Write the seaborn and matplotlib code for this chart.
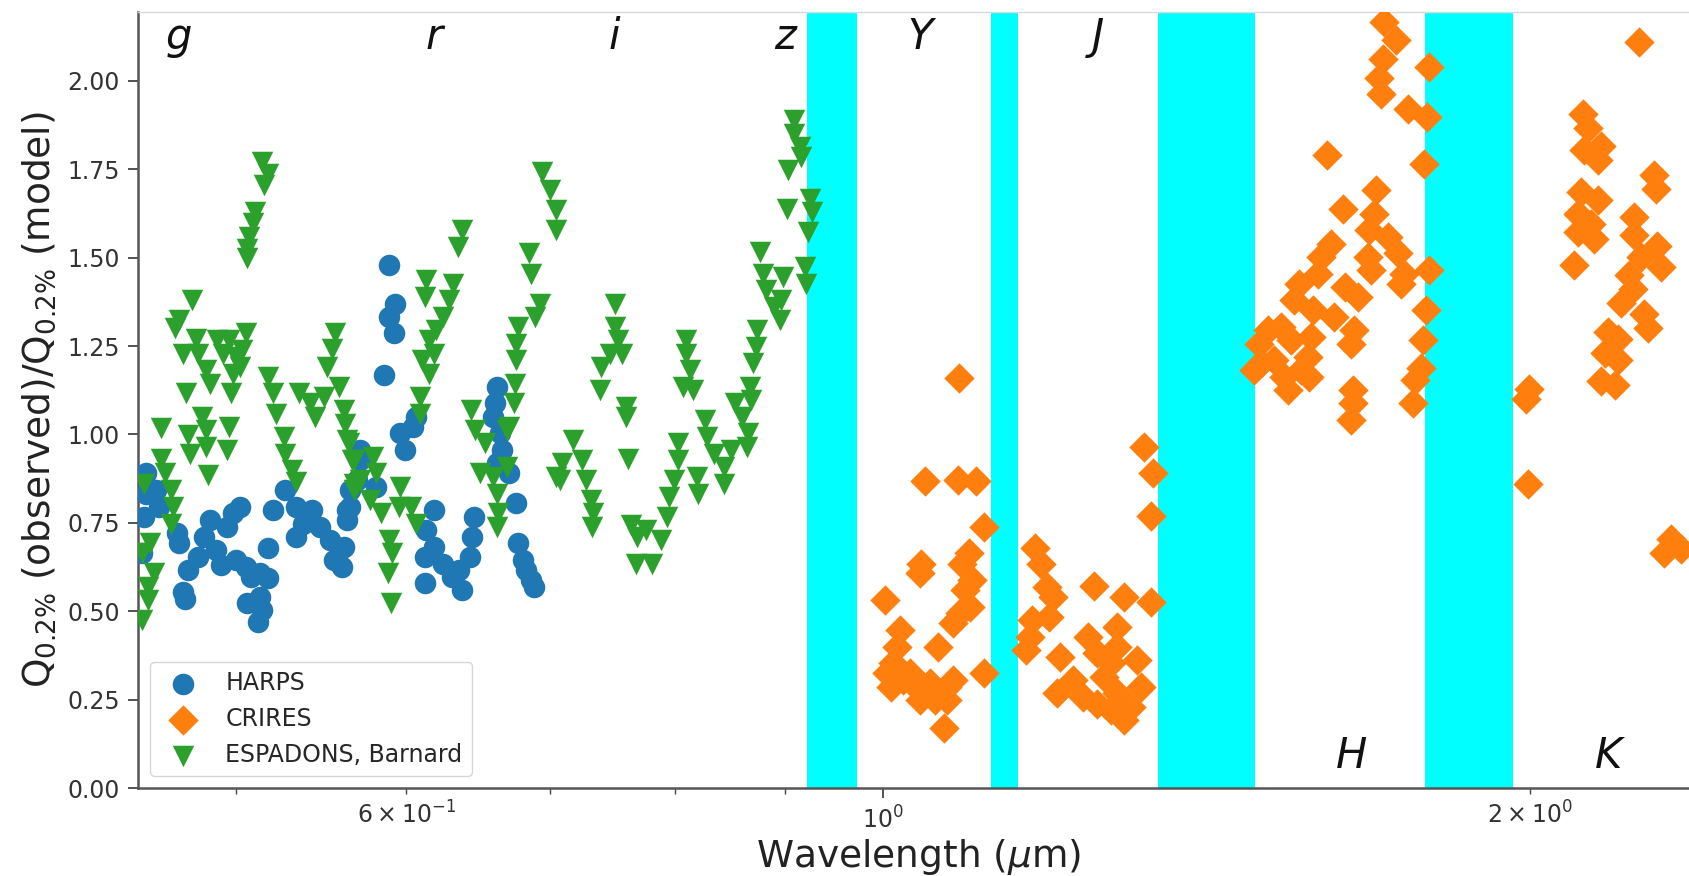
import matplotlib
matplotlib.use("Agg")
import numpy as np
import matplotlib.pyplot as plt
import seaborn as sns

sns.set_style("ticks")
plt.rcParams["font.family"] = ["DejaVu Sans"]
plt.rcParams["mathtext.fontset"] = "dejavusans"

# ---------------------------------------------------------------- data
# HARPS (optical)
harps_wl = [0.454, 0.454, 0.453, 0.452, 0.459, 0.460, 0.469, 0.470, 0.473, 0.472,
            0.475, 0.480, 0.483, 0.486, 0.489, 0.492, 0.495, 0.498, 0.502, 0.500,
            0.505, 0.508, 0.513, 0.517, 0.517, 0.506, 0.513, 0.512, 0.514, 0.520,
            0.527, 0.533, 0.537, 0.533, 0.542, 0.547, 0.553, 0.555, 0.559, 0.565,
            0.563, 0.571, 0.589, 0.593, 0.589, 0.592, 0.586, 0.596, 0.599, 0.604,
            0.606, 0.571, 0.569, 0.565, 0.563, 0.561, 0.560, 0.581, 0.618, 0.613,
            0.618, 0.612, 0.612, 0.624, 0.630, 0.637, 0.635, 0.642, 0.644, 0.645,
            0.661, 0.660, 0.658, 0.663, 0.665, 0.661, 0.670, 0.675, 0.676, 0.680,
            0.686, 0.688, 0.682]
harps_q = [0.890, 0.833, 0.767, 0.664, 0.843, 0.795, 0.720, 0.692, 0.536, 0.555,
           0.616, 0.654, 0.711, 0.758, 0.673, 0.631, 0.739, 0.777, 0.795, 0.645,
           0.626, 0.597, 0.607, 0.593, 0.678, 0.522, 0.541, 0.470, 0.503, 0.786,
           0.843, 0.795, 0.748, 0.711, 0.786, 0.739, 0.701, 0.645, 0.673, 0.795,
           0.758, 0.956, 1.479, 1.370, 1.333, 1.286, 1.168, 1.003, 0.956, 1.021,
           1.050, 0.927, 0.871, 0.843, 0.786, 0.682, 0.626, 0.852, 0.786, 0.729,
           0.682, 0.654, 0.579, 0.635, 0.597, 0.560, 0.616, 0.654, 0.711, 0.767,
           1.135, 1.088, 1.050, 1.003, 0.956, 0.918, 0.890, 0.805, 0.692, 0.645,
           0.588, 0.569, 0.616]

# CRIRES (near infrared)
crires_wl = [1.046, 1.084, 1.105, 1.114, 1.042, 1.040, 1.096, 1.088, 1.100, 1.092,
             1.098, 1.086, 1.078, 1.002, 1.018, 1.015, 1.011, 1.008, 1.022, 1.036,
             1.040, 1.052, 1.057, 1.071, 1.078, 1.071, 1.067, 1.061, 1.114, 1.029,
             1.004, 1.177, 1.184, 1.192, 1.200, 1.194, 1.173, 1.171, 1.165, 1.253,
             1.295, 1.332, 1.322, 1.336, 1.332, 1.246, 1.258, 1.285, 1.285, 1.276,
             1.209, 1.205, 1.226, 1.239, 1.258, 1.276, 1.295, 1.304, 1.313, 1.318,
             1.285, 1.267, 1.711, 1.733, 1.708, 1.702, 1.705, 1.755, 1.792, 1.795,
             1.610, 1.785, 1.696, 1.637, 1.693, 1.684, 1.717, 1.736, 1.748, 1.742,
             1.681, 1.687, 1.795, 1.616, 1.599, 1.593, 1.561, 1.554, 1.640, 1.663,
             1.585, 1.621, 1.657, 1.651, 1.510, 1.532, 1.548, 1.582, 1.576, 1.499,
             1.520, 1.537, 1.565, 1.543, 1.579, 1.789, 1.783, 1.780, 1.768, 1.765,
             1.654, 1.654, 1.651, 1.488, 1.496, 1.997, 2.248, 2.117, 2.128, 2.159,
             2.120, 2.151, 2.285, 2.289, 2.113, 2.151, 2.105, 2.136, 2.105, 2.143,
             2.097, 2.236, 2.236, 2.293, 2.253, 2.302, 2.225, 2.233, 2.205, 2.261,
             2.269, 2.174, 2.198, 2.167, 2.198, 2.159, 2.191, 1.999, 1.992, 2.326,
             2.310, 2.351, 1.085]
crires_q = [0.869, 0.871, 0.869, 0.737, 0.635, 0.607, 0.664, 0.635, 0.588, 0.560,
            0.513, 0.494, 0.466, 0.532, 0.447, 0.399, 0.353, 0.286, 0.305, 0.286,
            0.249, 0.296, 0.249, 0.286, 0.305, 0.249, 0.169, 0.399, 0.324, 0.324,
            0.324, 0.678, 0.635, 0.569, 0.541, 0.484, 0.475, 0.428, 0.390, 0.572,
            0.541, 0.527, 0.965, 0.891, 0.769, 0.428, 0.381, 0.456, 0.399, 0.353,
            0.371, 0.268, 0.305, 0.258, 0.239, 0.221, 0.192, 0.230, 0.362, 0.286,
            0.268, 0.315, 2.167, 2.115, 2.063, 2.007, 1.964, 1.922, 1.898, 2.039,
            1.790, 1.766, 1.691, 1.639, 1.625, 1.578, 1.559, 1.512, 1.455, 1.427,
            1.502, 1.465, 1.465, 1.540, 1.502, 1.455, 1.427, 1.380, 1.417, 1.389,
            1.351, 1.333, 1.295, 1.257, 1.295, 1.304, 1.267, 1.276, 1.219, 1.201,
            1.210, 1.163, 1.182, 1.125, 1.163, 1.351, 1.267, 1.187, 1.154, 1.088,
            1.125, 1.088, 1.040, 1.182, 1.257, 0.861, 2.111, 1.907, 1.866, 1.816,
            1.806, 1.776, 1.735, 1.695, 1.685, 1.664, 1.624, 1.594, 1.574, 1.553,
            1.478, 1.614, 1.564, 1.533, 1.503, 1.473, 1.452, 1.412, 1.372, 1.341,
            1.301, 1.291, 1.271, 1.230, 1.210, 1.150, 1.139, 1.129, 1.099, 0.705,
            0.665, 0.675, 1.159]

# ESPaDOnS spectrum of Barnard's star
espadons_wl = [0.514, 0.517, 0.515, 0.510, 0.509, 0.507, 0.506, 0.506, 0.477, 0.470,
               0.468, 0.472, 0.474, 0.479, 0.480, 0.484, 0.486, 0.490, 0.493, 0.496,
               0.500, 0.498, 0.497, 0.505, 0.503, 0.502, 0.461, 0.482, 0.484, 0.475,
               0.476, 0.484, 0.496, 0.495, 0.485, 0.517, 0.520, 0.522, 0.526, 0.527,
               0.531, 0.533, 0.535, 0.541, 0.544, 0.549, 0.556, 0.554, 0.551, 0.558,
               0.561, 0.562, 0.564, 0.566, 0.567, 0.461, 0.463, 0.466, 0.467, 0.466,
               0.453, 0.456, 0.458, 0.455, 0.455, 0.452, 0.452, 0.694, 0.700, 0.704,
               0.704, 0.637, 0.634, 0.684, 0.686, 0.692, 0.689, 0.676, 0.675, 0.675,
               0.674, 0.673, 0.670, 0.613, 0.612, 0.631, 0.628, 0.624, 0.619, 0.615,
               0.618, 0.610, 0.615, 0.609, 0.609, 0.563, 0.567, 0.579, 0.581, 0.571,
               0.567, 0.577, 0.584, 0.596, 0.595, 0.603, 0.606, 0.589, 0.591, 0.588,
               0.590, 0.643, 0.646, 0.653, 0.668, 0.649, 0.658, 0.668, 0.661, 0.662,
               0.661, 0.707, 0.717, 0.709, 0.704, 0.724, 0.727, 0.731, 0.733, 0.732,
               0.750, 0.750, 0.753, 0.746, 0.739, 0.756, 0.738, 0.759, 0.759, 0.761,
               0.763, 0.768, 0.767, 0.776, 0.781, 0.788, 0.793, 0.795, 0.799, 0.810,
               0.810, 0.813, 0.807, 0.816, 0.803, 0.803, 0.819, 0.820, 0.826, 0.828,
               0.834, 0.843, 0.843, 0.850, 0.853, 0.860, 0.867, 0.868, 0.865, 0.864,
               0.874, 0.873, 0.870, 0.876, 0.879, 0.882, 0.890, 0.895, 0.898, 0.896,
               0.920, 0.921, 0.909, 0.909, 0.915, 0.916, 0.903, 0.902, 0.925, 0.927,
               0.923]
espadons_q = [1.771, 1.738, 1.705, 1.629, 1.597, 1.559, 1.526, 1.498, 1.380, 1.323,
              1.300, 1.229, 1.116, 1.271, 1.229, 1.182, 1.144, 1.267, 1.229, 1.267,
              1.219, 1.172, 1.116, 1.286, 1.238, 1.191, 1.017, 1.050, 1.012, 0.998,
              0.946, 0.965, 1.021, 0.956, 0.885, 1.163, 1.116, 1.059, 0.993, 0.946,
              0.899, 0.866, 1.116, 1.088, 1.050, 1.106, 1.286, 1.243, 1.191, 1.135,
              1.069, 1.031, 0.975, 0.927, 0.861, 0.932, 0.890, 0.843, 0.795, 0.748,
              0.861, 0.692, 0.607, 0.569, 0.532, 0.475, 0.664, 1.742, 1.691, 1.634,
              1.578, 1.578, 1.530, 1.512, 1.455, 1.370, 1.333, 1.304, 1.257, 1.210,
              1.144, 1.088, 1.021, 1.436, 1.389, 1.427, 1.380, 1.333, 1.295, 1.267,
              1.229, 1.210, 1.172, 1.106, 1.059, 0.984, 0.927, 0.937, 0.890, 0.871,
              0.843, 0.814, 0.777, 0.852, 0.795, 0.795, 0.748, 0.701, 0.664, 0.607,
              0.522, 1.069, 1.012, 0.975, 1.012, 0.890, 0.880, 0.908, 0.833, 0.777,
              0.739, 0.871, 0.984, 0.918, 0.880, 0.927, 0.871, 0.814, 0.777, 0.739,
              1.370, 1.304, 1.267, 1.229, 1.191, 1.229, 1.125, 1.078, 1.050, 0.932,
              0.744, 0.711, 0.635, 0.729, 0.635, 0.701, 0.767, 0.824, 0.871, 1.267,
              1.229, 1.182, 1.135, 1.125, 0.975, 0.927, 0.880, 0.833, 1.040, 0.993,
              0.946, 0.908, 0.861, 0.956, 1.088, 1.050, 1.135, 1.097, 1.003, 0.965,
              1.295, 1.248, 1.201, 1.516, 1.455, 1.408, 1.361, 1.323, 1.446, 1.380,
              1.474, 1.427, 1.889, 1.851, 1.813, 1.785, 1.747, 1.639, 1.667, 1.629,
              1.573]

# wavelength ranges lost to telluric absorption (micron)
gap_lo = [0.922, 1.123, 1.343, 1.787]
gap_hi = [0.972, 1.156, 1.489, 1.964]

# photometric band names and where they are written
band_names = ["g", "r", "i", "z", "Y", "J", "H", "K"]
band_wl = [0.470, 0.619, 0.750, 0.902, 1.043, 1.255, 1.652, 2.180]
band_top = [True, True, True, True, True, True, False, False]

# ---------------------------------------------------------------- figure
fig = plt.figure(figsize=(16.89, 8.76), dpi=100)
# the plotting area runs slightly past the right edge of the canvas
ax = fig.add_axes([138 / 1689, 1 - 788 / 876, (1700 - 138) / 1689, (788 - 12) / 876])

for lo, hi in zip(gap_lo, gap_hi):
    ax.axvspan(lo, hi, color="cyan", lw=0, zorder=0)

series = [
    ("HARPS", harps_wl, harps_q, "o", "#1f77b4"),
    ("CRIRES", crires_wl, crires_q, "D", "#ff7f0e"),
    ("ESPADONS, Barnard", espadons_wl, espadons_q, "v", "#2ca02c"),
]
for name, wl, q, mk, col in series:
    sns.scatterplot(x=wl, y=q, marker=mk, color=col, s=240, linewidth=0,
                    label=name, ax=ax, zorder=3)

ax.set_xscale("log")
ax.set_xlim(0.45, 2.4)
ax.set_ylim(0, 2.195)
ax.set_yticks(np.arange(0, 2.01, 0.25))

for name, wl, top in zip(band_names, band_wl, band_top):
    ax.text(wl, 2.09 if top else 0.057, "$%s$" % name, fontsize=30,
            ha="center", va="baseline", color="#111111", zorder=4)

ax.set_xlabel(r"Wavelength ($\mu$m)", fontsize=27, labelpad=3, color="#222222")
ax.set_ylabel(r"Q$_{0.2\%}$ (observed)/Q$_{0.2\%}$ (model)", fontsize=27,
              labelpad=7, color="#222222")

ax.tick_params(axis="both", which="both", labelsize=17, colors="#444444",
               labelcolor="#333333")
ax.tick_params(axis="both", which="major", length=7, width=1.3, pad=6)
ax.tick_params(axis="x", which="minor", length=4, width=1.0, pad=6)

ax.spines["right"].set_visible(False)
ax.spines["top"].set_color("#d9d9d9")
ax.spines["top"].set_linewidth(1.0)
for side in ("left", "bottom"):
    ax.spines[side].set_color("#555555")
    ax.spines[side].set_linewidth(1.8)

leg = ax.legend(loc="lower left", fontsize=17, frameon=True, borderaxespad=0.5)
leg.get_frame().set_edgecolor("#cccccc")

fig.savefig("out.png", dpi=100)
